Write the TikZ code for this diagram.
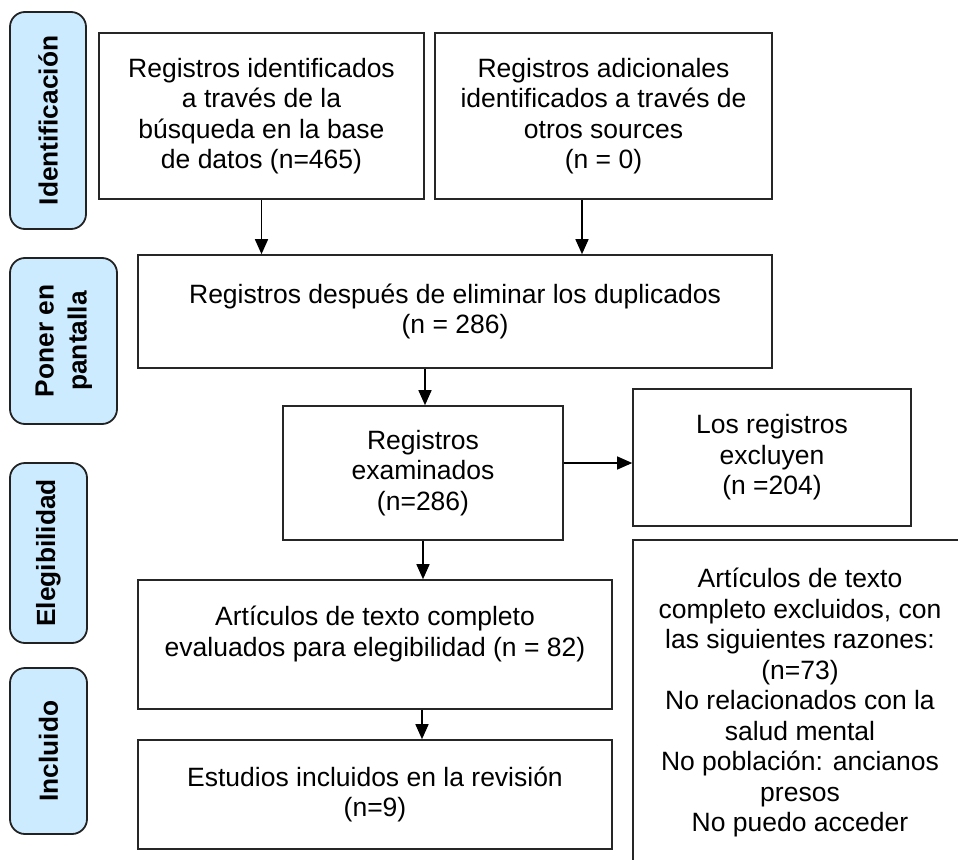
\documentclass[tikz,border=0pt]{standalone}
\usepackage{fontspec}
\setmainfont{Liberation Sans}
\usetikzlibrary{arrows.meta}
\definecolor{labfill}{HTML}{CCEBFF}
\definecolor{labdraw}{HTML}{222222}
\begin{document}
\begin{tikzpicture}[x=1pt,y=-1pt,
  box/.style={draw=black!85, line width=1.6pt, inner sep=0pt, align=center,
    font=\fontsize{26.5}{30.5}\selectfont},
  phase/.style={draw=labdraw, fill=labfill, line width=1.8pt, rounded corners=15pt,
    inner sep=0pt, align=center, font=\fontsize{26.3}{33}\selectfont\bfseries},
  flow/.style={line width=1.5pt, -{Triangle[length=15pt,width=13pt]}},
  sideflow/.style={line width=1.1pt, -{Triangle[length=15pt,width=13pt]}}]
\useasboundingbox (0,0) rectangle (958,859);
% phase labels
\node[phase, minimum width=76pt, minimum height=217pt] (lab1) at (48,120.5)
  {\rotatebox{90}{Identificación}};
\node[phase, minimum width=107pt, minimum height=166pt] (lab2) at (63.5,341)
  {\rotatebox{90}{\begin{tabular}{@{}c@{}}Poner en\\pantalla\end{tabular}}};
\node[phase, minimum width=77pt, minimum height=180pt] (lab3) at (48.5,553)
  {\rotatebox{90}{Elegibilidad}};
\node[phase, minimum width=77pt, minimum height=166pt] (lab4) at (48.5,751)
  {\rotatebox{90}{Incluido}};
% boxes
\node[box, minimum width=325pt, minimum height=166pt] (b1) at (261.5,116)
  {Registros identificados\\a través de la\\búsqueda en la base\\de datos (n=465)};
\node[box, minimum width=337pt, minimum height=166pt] (b2) at (603.5,116)
  {Registros adicionales\\identificados a través de\\otros sources\\(n = 0)};
\node[box, minimum width=634pt, minimum height=113pt] (b3) at (455,311.5)
  {Registros después de eliminar los duplicados\\(n = 286)};
\node[box, minimum width=280pt, minimum height=134pt] (b4) at (423,473)
  {Registros\\examinados\\(n=286)};
\node[box, minimum width=278pt, minimum height=137pt] (b5) at (772,457.5)
  {Los registros\\excluyen\\(n =204)};
\node[box, minimum width=474pt, minimum height=129pt] (b6) at (375,644.5)
  {Artículos de texto completo\\evaluados para elegibilidad (n = 82)\\[-4pt]\mbox{}};
\node[box, minimum width=474pt, minimum height=109pt] (b7) at (375,794.5)
  {Estudios incluidos en la revisión\\(n=9)};
\node[box, minimum width=334pt, minimum height=326pt] (b8) at (800,703)
  {Artículos de texto\\completo excluidos, con\\las siguientes razones:\\(n=73)\\No relacionados con la\\salud mental\\No población: ancianos\\presos\\No puedo acceder\\[-24pt]\mbox{}};
% connectors
\draw[flow] (b1.south) -- (b1.south |- b3.north);
\draw[flow] ([xshift=-21.5pt]b2.south) -- ([xshift=-21.5pt]b2.south |- b3.north);
\draw[flow] ([xshift=2pt]b4.north |- b3.south) -- ([xshift=2pt]b4.north);
\draw[flow] (b4.south) -- (b4.south |- b6.north);
\draw[flow] ([xshift=47pt]b6.south) -- ([xshift=47pt]b7.north);
\draw[sideflow] ([yshift=10pt]b4.east) -- ([yshift=10pt]b4.east -| b5.west);
\end{tikzpicture}
\end{document}
